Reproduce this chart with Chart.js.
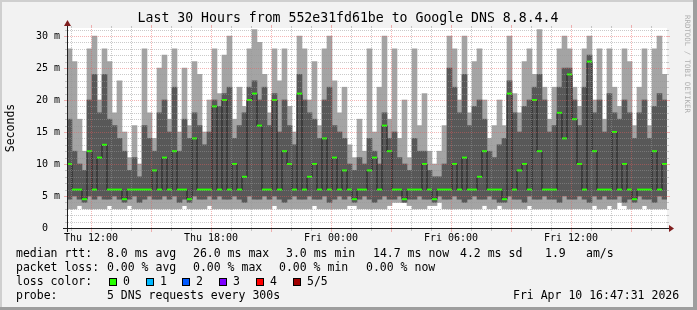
<!DOCTYPE html>
<html>
<head>
<meta charset="utf-8">
<script src="https://cdn.jsdelivr.net/npm/chart.js@4"></script>
<style>
  html, body { margin: 0; padding: 0; background: #f2f2f2; }
  #wrap { width: 697px; height: 310px; }
</style>
</head>
<body>
<div id="wrap"><canvas id="chart" width="697" height="310"></canvas></div>
<script>
// 15 minute bins from Thu 10:48 to Fri 16:48 (30 hours), values in ms
const stepHours = 0.25;

const maxRtt = [
  28, 26, 17, 12, 28, 30, 20, 28, 26, 18,
  23, 15, 11, 16, 10, 28, 18, 14, 25, 27,
  17, 28, 15, 25, 16, 26, 24, 15, 20, 28,
  21, 27, 30, 17, 22, 19, 28, 31, 29, 24,
  18, 28, 23, 28, 19, 15, 30, 28, 20, 26,
  16, 28, 30, 23, 18, 22, 13, 11, 17, 12,
  28, 15, 22, 30, 17, 28, 14, 20, 11, 28,
  16, 21, 12, 10, 12, 16, 30, 28, 20, 30,
  18, 26, 28, 20, 14, 16, 20, 16, 30, 21,
  18, 26, 28, 24, 31, 22, 17, 22, 28, 30,
  28, 22, 19, 28, 30, 20, 28, 17, 28, 22,
  19, 28, 26, 16, 22, 28, 16, 28, 30, 24
];

const hiRtt = [
  17, 12, 10, 9, 20, 24, 18, 24, 17, 16,
  14, 12, 9, 11, 8, 16, 14, 12, 18, 20,
  15, 22, 12, 17, 14, 18, 16, 13, 15, 20,
  19, 21, 22, 14, 16, 18, 22, 23, 20, 22,
  16, 21, 15, 20, 16, 13, 24, 20, 18, 17,
  14, 20, 22, 16, 15, 14, 10, 9, 11, 10,
  14, 12, 10, 18, 14, 15, 11, 10, 9, 14,
  12, 12, 9, 8, 8, 10, 25, 22, 18, 24,
  16, 19, 20, 17, 12, 11, 13, 14, 23, 18,
  15, 19, 20, 22, 24, 20, 15, 16, 22, 25,
  25, 20, 16, 22, 27, 18, 20, 15, 21, 18,
  17, 20, 18, 14, 18, 20, 14, 19, 21, 20
];

const medRtt = [
  10, 6, 6, 4.5, 12, 6, 11, 13, 6, 6,
  6, 4.5, 6, 6, 6, 6, 6, 9, 6, 11,
  6, 12, 6, 6, 4.5, 14, 6, 6, 6, 19,
  6, 20, 6, 10, 6, 8, 20, 21, 16, 6,
  6, 20, 6, 12, 10, 6, 21, 6, 8, 10,
  6, 14, 6, 11, 6, 9, 6, 4.5, 6, 6,
  9, 11, 6, 16, 12, 6, 6, 4.5, 6, 6,
  6, 10, 6, 4.5, 6, 6, 6, 10, 6, 11,
  6, 6, 8, 12, 6, 6, 6, 4.5, 21, 6,
  9, 10, 6, 20, 12, 6, 6, 6, 18, 14,
  24, 17, 10, 6, 26, 12, 6, 6, 6, 15,
  6, 10, 6, 4.5, 6, 6, 6, 12, 6, 10
];

const loRtt = [
  4.5, 5, 4.5, 4, 5, 4.5, 5, 4.5, 4.5, 5,
  4.5, 4, 4.5, 5, 4, 4.5, 5, 4.5, 4.5, 5,
  4.5, 5, 4, 4.5, 4, 5, 4.5, 4.5, 5, 4.5,
  5, 4.5, 4.5, 5, 4.5, 4, 5, 4.5, 4.5, 5,
  4.5, 5, 4.5, 4, 4.5, 5, 4.5, 4.5, 5, 4.5,
  4.5, 5, 4, 4.5, 5, 4.5, 5, 4, 4.5, 5,
  4.5, 4, 4.5, 5, 4.5, 4.5, 5, 4, 4.5, 4.5,
  5, 4.5, 4.5, 4, 5, 4.5, 4.5, 5, 4.5, 4,
  4.5, 5, 4.5, 4.5, 5, 4.5, 4, 4, 5, 4.5,
  4.5, 4, 5, 4.5, 4.5, 5, 4.5, 4.5, 4, 5,
  4.5, 4.5, 5, 4.5, 4, 5, 4.5, 5, 4.5, 4.5,
  5, 4, 4.5, 4, 5, 4.5, 4.5, 4, 5, 4.5
];

const minRtt = [
  3, 3, 3.5, 3, 3, 3, 3, 3, 3.5, 3,
  3, 3, 3.5, 3, 3, 3, 3, 3, 3, 3,
  3, 3, 3, 3.5, 3, 3, 3, 3, 3.5, 3,
  3, 3, 3, 3, 3, 3, 3, 3, 3, 3,
  3, 3.5, 3, 3, 3, 3, 3, 3, 3, 3.5,
  3, 3, 3, 3, 3, 3, 3.5, 3.5, 3, 3,
  3, 3, 3, 3, 3.5, 4, 4, 4, 3.5, 3,
  3, 3, 3.5, 3.5, 4, 3, 3, 3, 3, 3,
  3, 3, 3, 3.5, 3, 3, 3.5, 3, 3, 3,
  3, 3, 3.5, 3, 3, 3, 3, 3, 3, 3,
  3, 3, 3, 3, 3, 3.5, 3, 3, 3.5, 3,
  4, 3.5, 3, 3, 3, 3.5, 3, 3, 3, 3
];

const xTickHours = [1.2, 7.2, 13.2, 19.2, 25.2];
const xTickLabels = ['Thu 12:00', 'Thu 18:00', 'Fri 00:00', 'Fri 06:00', 'Fri 12:00'];
const yTickValues = [0, 5, 10, 15, 20, 25, 30];
const yTickLabels = ['0  ', '5 m', '10 m', '15 m', '20 m', '25 m', '30 m'];

const lossColors = ['#26ff00', '#00b8ff', '#0059ff', '#7e00ff', '#ff0000', '#a00000'];
const lossLabels = ['0', '1', '2', '3', '4', '5/5'];

const binX = maxRtt.map((_, i) => (i + 0.5) * stepHours);
const range = (lo, hi) => binX.map((x, i) => ({ x, y: [lo[i], hi[i]] }));
const points = vals => binX.map((x, i) => ({ x, y: vals[i] }));

const MONO = '"DejaVu Sans Mono", monospace';

// rrdtool look: frame, dotted grid on top of the data, axes with arrows, legend
const rrdPlugin = {
  id: 'rrd',
  beforeDraw(chart) {
    const { ctx, chartArea: a, width, height } = chart;
    ctx.save();
    ctx.fillStyle = '#f2f2f2';
    ctx.fillRect(0, 0, width, height);
    ctx.fillStyle = '#cfcfcf';
    ctx.fillRect(0, 0, width, 2);
    ctx.fillRect(0, 0, 2, height);
    ctx.fillStyle = '#9e9e9e';
    ctx.fillRect(width - 4, 0, 4, height);
    ctx.fillRect(0, height - 3, width, 3);
    ctx.fillStyle = '#ffffff';
    ctx.fillRect(a.left, a.top, a.right - a.left, a.bottom - a.top);
    ctx.restore();
  },
  afterDatasetsDraw(chart) {
    const { ctx, chartArea: a, scales: { x, y } } = chart;
    ctx.save();
    const minor = 'rgba(150,150,150,0.5)';
    const major = 'rgba(230,90,90,0.45)';
    // horizontal grid every 1 ms, major every 5 ms
    for (let v = 1; v <= 31; v++) {
      const py = Math.round(y.getPixelForValue(v));
      ctx.fillStyle = v % 5 === 0 ? major : minor;
      for (let px = Math.round(a.left) + 1; px < a.right; px += 2) ctx.fillRect(px, py, 1, 1);
      ctx.fillRect(a.left - (v % 5 === 0 ? 3 : 2), py, v % 5 === 0 ? 3 : 2, 1);
      ctx.fillRect(a.right, py, v % 5 === 0 ? 3 : 2, 1);
    }
    // vertical grid every hour, major every 3 hours
    for (let h = 0.2; h < 30; h += 1) {
      const px = Math.round(x.getPixelForValue(h));
      const isMajor = Math.round(h - 1.2) % 3 === 0;
      ctx.fillStyle = isMajor ? major : minor;
      for (let py = Math.round(a.top) + 1; py < a.bottom; py += 2) ctx.fillRect(px, py, 1, 1);
      ctx.fillRect(px, a.bottom + 1, 1, isMajor ? 3 : 2);
      ctx.fillRect(px, a.top - (isMajor ? 3 : 2), 1, isMajor ? 3 : 2);
    }
    // axes
    const ox = Math.round(a.left), oy = Math.round(a.bottom);
    ctx.fillStyle = '#1f1f1f';
    ctx.fillRect(ox - 4, oy, a.right - a.left + 8, 1);
    ctx.fillRect(ox, a.top - 6, 1, a.bottom - a.top + 10);
    ctx.fillStyle = '#801f1f';
    ctx.beginPath();
    ctx.moveTo(a.right + 2, oy - 3);
    ctx.lineTo(a.right + 7, oy + 0.5);
    ctx.lineTo(a.right + 2, oy + 4);
    ctx.closePath();
    ctx.fill();
    ctx.beginPath();
    ctx.moveTo(ox - 3, a.top - 2);
    ctx.lineTo(ox + 0.5, a.top - 8);
    ctx.lineTo(ox + 4, a.top - 2);
    ctx.closePath();
    ctx.fill();
    ctx.restore();
  },
  afterDraw(chart) {
    const { ctx } = chart;
    ctx.save();
    ctx.fillStyle = '#000';
    ctx.textBaseline = 'middle';
    ctx.textAlign = 'center';
    ctx.font = '13.2px ' + MONO;
    ctx.fillText('Last 30 Hours from 552e31fd61be to Google DNS 8.8.4.4', 348, 19);

    ctx.save();
    ctx.translate(11, 128);
    ctx.rotate(-Math.PI / 2);
    ctx.font = '11.5px ' + MONO;
    ctx.fillText('Seconds', 0, 0);
    ctx.restore();

    ctx.save();
    ctx.translate(687, 64);
    ctx.rotate(Math.PI / 2);
    ctx.font = '7.4px ' + MONO;
    ctx.fillStyle = '#b0b0b0';
    ctx.fillText('RRDTOOL / TOBI OETIKER', 0, 0);
    ctx.restore();

    ctx.textAlign = 'left';
    ctx.font = '11.5px ' + MONO;
    const rows = [
      [254, [[16, 'median rtt:'], [107, '8.0 ms avg'], [193, '26.0 ms max'], [286, '3.0 ms min'],
             [373, '14.7 ms now'], [460, '4.2 ms sd'], [545, '1.9'], [586, 'am/s']]],
      [268, [[16, 'packet loss:'], [107, '0.00 % avg'], [193, '0.00 % max'], [279, '0.00 % min'], [366, '0.00 % now']]],
      [282, [[16, 'loss color:']]],
      [296, [[16, 'probe:'], [107, '5 DNS requests every 300s'], [513, 'Fri Apr 10 16:47:31 2026']]]
    ];
    rows.forEach(([ty, parts]) => parts.forEach(([tx, t]) => ctx.fillText(t, tx, ty)));

    const boxX = [109, 146, 182, 219, 256, 293];
    lossColors.forEach((c, i) => {
      ctx.fillStyle = c;
      ctx.fillRect(boxX[i], 278, 8, 8);
      ctx.strokeStyle = '#000';
      ctx.lineWidth = 1;
      ctx.strokeRect(boxX[i] + 0.5, 278.5, 7, 7);
      ctx.fillStyle = '#000';
      ctx.fillText(lossLabels[i], boxX[i] + 14, 282);
    });
    ctx.restore();
  }
};

const ctx = document.getElementById('chart').getContext('2d');
new Chart(ctx, {
  type: 'bar',
  data: {
    datasets: [
      { type: 'line', label: 'median', data: points(medRtt), showLine: false, pointStyle: 'line',
        pointRadius: 2.5, pointHoverRadius: 2.5, pointBorderWidth: 2, pointBorderColor: '#26ff00',
        pointBackgroundColor: '#26ff00', order: 0 },
      { type: 'line', label: 'median line', data: points(medRtt), stepped: 'middle',
        borderColor: '#202020', borderWidth: 1, pointRadius: 0, order: 1 },
      { label: 'ping 2-4', data: range(loRtt, hiRtt), backgroundColor: '#585858', grouped: false,
        barPercentage: 1, categoryPercentage: 1, order: 2 },
      { label: 'ping 1-5', data: range(minRtt, maxRtt), backgroundColor: '#a4a4a4', grouped: false,
        barPercentage: 1, categoryPercentage: 1, order: 3 }
    ]
  },
  options: {
    responsive: false,
    animation: false,
    devicePixelRatio: 1,
    layout: { padding: { left: 0, right: 30, top: 28, bottom: 0 } },
    plugins: { legend: { display: false }, tooltip: { enabled: false } },
    scales: {
      x: {
        type: 'linear', min: 0, max: 30, offset: false,
        grid: { display: false, drawTicks: false }, border: { display: false },
        afterBuildTicks: s => { s.ticks = xTickHours.map(v => ({ value: v })); },
        afterFit: s => { s.height = 82; },
        ticks: { callback: v => xTickLabels[xTickHours.indexOf(v)], font: { family: MONO, size: 10 },
                 color: '#000', padding: 4, maxRotation: 0, autoSkip: false }
      },
      y: {
        min: 0, max: 31.25,
        grid: { display: false, drawTicks: false }, border: { display: false },
        afterBuildTicks: s => { s.ticks = yTickValues.map(v => ({ value: v })); },
        afterFit: s => { s.width = 67; },
        ticks: { callback: v => yTickLabels[yTickValues.indexOf(v)], font: { family: MONO, size: 10 },
                 color: '#000', padding: 7 }
      }
    }
  },
  plugins: [rrdPlugin]
});
</script>
</body>
</html>
